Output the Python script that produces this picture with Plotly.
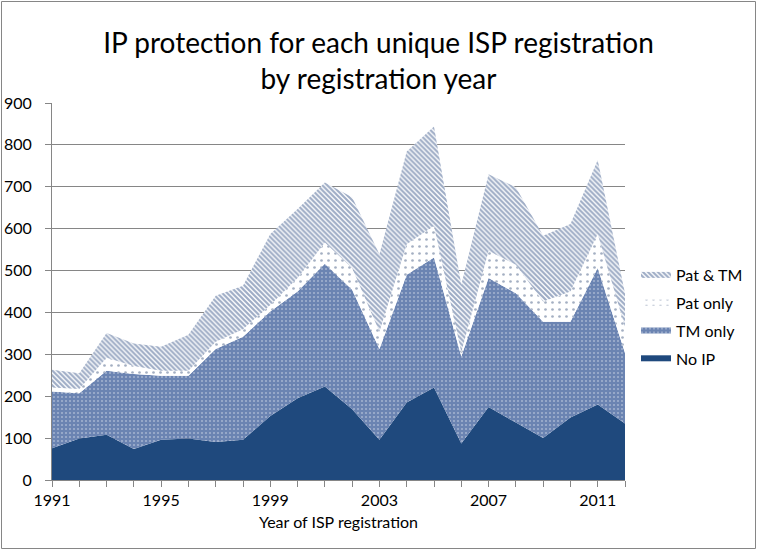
import plotly.graph_objects as go

years = list(range(1991, 2013))
no_ip = [76, 99, 108, 74, 96, 99, 91, 96, 153, 195, 223, 169, 96, 185, 221, 87, 174, 137, 100, 149, 180, 135]
tm_only = [135, 108, 153, 179, 153, 150, 222, 246, 249, 255, 293, 285, 217, 305, 310, 208, 308, 309, 278, 229, 326, 168]
pat_only = [10, 10, 31, 19, 12, 12, 17, 18, 16, 32, 51, 52, 41, 73, 76, 10, 65, 68, 48, 72, 81, 62]
pat_tm = [42, 38, 59, 54, 57, 86, 110, 104, 169, 165, 143, 169, 185, 221, 237, 161, 183, 185, 157, 161, 177, 80]
x_tick_labels = [1991, 1995, 1999, 2003, 2007, 2011]

FONT = "Lato"
DARK = "#1F497D"

fig = go.Figure()
fig.add_trace(go.Scatter(
    x=years, y=no_ip, name="No IP", stackgroup="ip", mode="none", legendrank=4, legendgroup="d",
    fillcolor=DARK))
fig.add_trace(go.Scatter(
    x=years, y=tm_only, name="TM only", stackgroup="ip", mode="none", legendrank=3, legendgroup="c",
    fillcolor="#7A92BC",
    fillpattern=dict(shape=".", size=4, solidity=0.22, fgcolor="#D6DDEA", bgcolor="#6B84B2")))
fig.add_trace(go.Scatter(
    x=years, y=pat_only, name="Pat only", stackgroup="ip", mode="none", legendrank=2, legendgroup="b",
    fillcolor="white",
    fillpattern=dict(shape=".", size=7, solidity=0.12, fgcolor="#4A5F85", bgcolor="white")))
fig.add_trace(go.Scatter(
    x=years, y=pat_tm, name="Pat & TM", stackgroup="ip", mode="none", legendrank=1, legendgroup="a",
    fillcolor="#8A9CC0",
    fillpattern=dict(shape="\\", size=3.5, solidity=0.62, fgcolor="#3D5A8C", bgcolor="white")))

L, R, T, B = 52, 132, 103, 70
W, H = 757, 550
pw, ph = W - L - R, H - T - B

fig.update_layout(
    width=W, height=H,
    margin=dict(l=L, r=R, t=T, b=B, pad=0, autoexpand=False),
    paper_bgcolor="white", plot_bgcolor="white",
    font=dict(family=FONT, color="black", size=15),
    title=dict(text="IP protection for each unique ISP registration<br>by registration year",
               x=0.5, xanchor="center", y=1 - 53 / 550, yanchor="middle", yref="container",
               font=dict(family=FONT, size=28, color="black")),
    legend=dict(x=(636 - L) / pw, xanchor="left", y=(480 - 317) / ph, yanchor="middle",
                traceorder="grouped", font=dict(family=FONT, size=16),
                itemwidth=30, tracegroupgap=4, bgcolor="rgba(0,0,0,0)"),
    showlegend=True,
    shapes=[dict(type="rect", xref="paper", yref="paper",
                 x0=(-L + 1.5) / pw, x1=(W - L - 1.5) / pw,
                 y0=(-B + 1.5) / ph, y1=(H - B - 1.5) / ph,
                 line=dict(color="#868686", width=1), fillcolor="rgba(0,0,0,0)", layer="below")],
)

fig.update_xaxes(
    range=[1991, 2012], tickmode="array", tickvals=x_tick_labels,
    ticktext=[str(v) for v in x_tick_labels],
    ticks="outside", ticklen=6, tickcolor="#868686",
    minor=dict(dtick=1, tick0=1991, ticks="outside", ticklen=6, tickcolor="#868686", showgrid=False),
    showline=True, linecolor="#868686", linewidth=1, showgrid=False, zeroline=False,
    tickfont=dict(family=FONT, size=16), automargin=False,
    title=dict(text="Year of ISP registration", font=dict(family=FONT, size=16), standoff=8),
)
fig.update_yaxes(
    range=[0, 900], dtick=100, tick0=0,
    ticks="outside", ticklen=6, tickcolor="#868686", ticklabelstandoff=10,
    showline=True, linecolor="#868686", linewidth=1,
    showgrid=True, gridcolor="#868686", gridwidth=1, zeroline=False,
    tickfont=dict(family=FONT, size=16), automargin=False,
)

fig.write_html("out.html", config={"displayModeBar": False},
               post_script="document.body.style.margin='0';document.body.style.padding='0';")
